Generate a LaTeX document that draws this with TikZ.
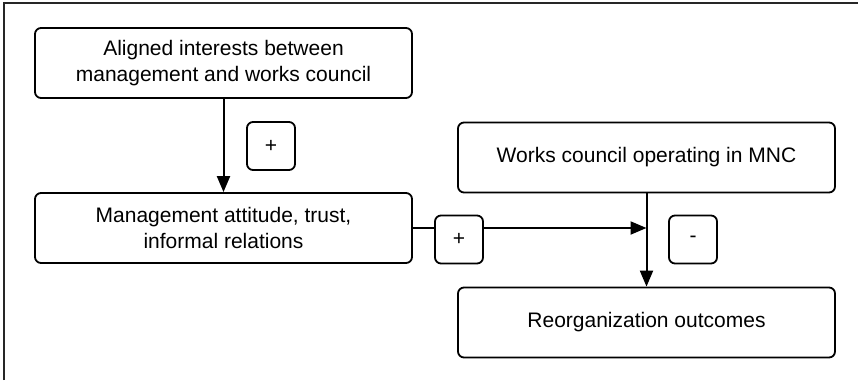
\documentclass[tikz,border=0pt]{standalone}
\usepackage{fontspec}
\setmainfont{Liberation Sans}
\usetikzlibrary{positioning,arrows.meta}

\begin{document}
\begin{tikzpicture}
            [%%%%%%%%%%%%%%%%%%%%%%%%%%%%%%%%%%%%%%%%%%%%%%%%%%%%%%%%%%
                x=1pt,y=-1pt,>={Triangle[length=16pt,width=13pt]},
                factor/.style={rectangle,draw,rounded corners=6pt,line width=1.8pt,
                              fill=white,align=center,inner sep=0pt,
                              minimum width=377pt,minimum height=70pt,
                              font=\fontsize{21}{26}\selectfont},
                sign/.style={rectangle,draw,rounded corners=6pt,line width=1.8pt,
                             fill=white,inner sep=0pt,minimum size=48pt,
                             font=\fontsize{21}{22}\selectfont}
            ]%%%%%%%%%%%%%%%%%%%%%%%%%%%%%%%%%%%%%%%%%%%%%%%%%%%%%%%%%%
            \useasboundingbox (0,0) rectangle (858,380);
            \draw [line width=1.8pt,black!85] (4,380) -- (4,3) -- (858,3);

            \node[factor] (aligned) at (223.5,63) {Aligned interests between\\management and works council};
            \node[factor] (attitude) at (223.5,228) {Management attitude, trust,\\informal relations};
            \node[factor] (council) at (646.5,157.5) {Works council operating in MNC};
            \node[factor] (outcomes) at (646.5,322.5) {Reorganization outcomes};
            \coordinate (join) at (council.south |- attitude.east);

            \draw [->,line width=2pt] (aligned.south) -- (attitude.north);
            \draw [->,line width=2pt] (council.south) -- (outcomes.north);
            \draw [->,line width=2pt] (attitude.east) -- (join);

            \node[sign] (plusA) at (271,146) {+};
            \node[sign] (plusB) at (459,239.5) {+};
            \node[sign] (minus) at (693,239.5) {-};
        \end{tikzpicture}
\end{document}
